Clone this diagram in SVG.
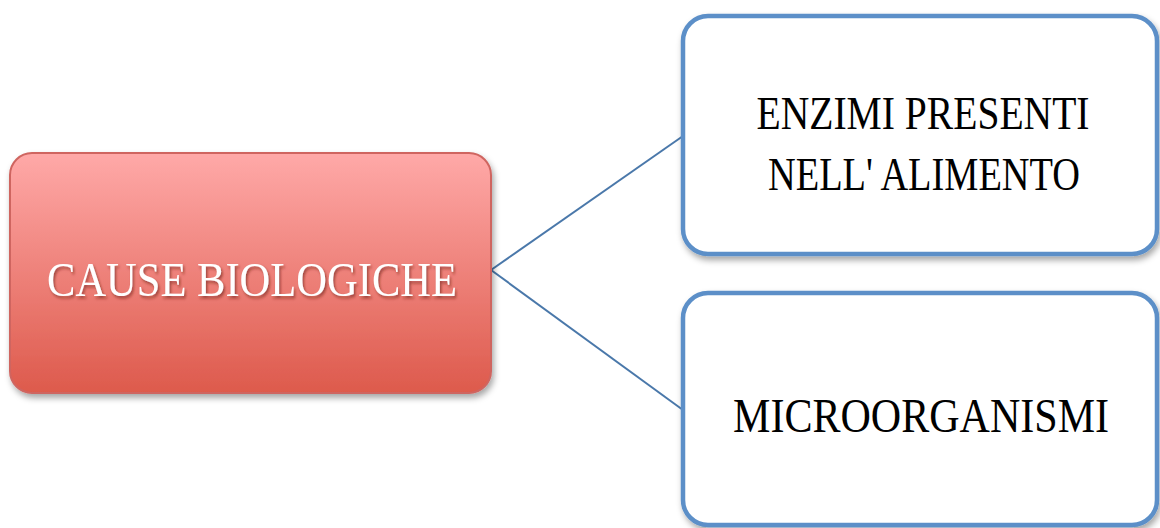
<svg xmlns="http://www.w3.org/2000/svg" width="1160" height="528" viewBox="0 0 1160 528">
<style>
.t{font-family:"Liberation Serif","DejaVu Serif",serif;font-size:42px;text-anchor:middle}
.box{fill:#fff;stroke:#5b8fc8;stroke-width:4.5}
.con{stroke:#4a78aa;stroke-width:2;fill:none}
</style>
<defs>
<linearGradient id="rg" x1="0" y1="0" x2="0" y2="1">
<stop offset="0" stop-color="#ffa9a8"/>
<stop offset="1" stop-color="#dd5a4c"/>
</linearGradient>
<filter id="sh" x="-10%" y="-10%" width="120%" height="130%">
<feDropShadow dx="2" dy="4" stdDeviation="3" flood-color="#000" flood-opacity="0.35"/>
</filter>
<filter id="ts" x="-5%" y="-20%" width="110%" height="150%">
<feDropShadow dx="1.5" dy="2" stdDeviation="1.2" flood-color="#6a1a14" flood-opacity="0.6"/>
</filter>
</defs>
<g id="connectors">
<line class="con" x1="491" y1="270" x2="683" y2="136"/>
<line class="con" x1="491" y1="270" x2="683" y2="410"/>
</g>
<g id="cause">
<rect x="10" y="153" width="481" height="240" rx="22" fill="url(#rg)" stroke="#cf6560" stroke-width="2" filter="url(#sh)"/>
<text class="t" transform="translate(252,296) scale(1,1.18)" fill="#fff" filter="url(#ts)" textLength="410" lengthAdjust="spacingAndGlyphs">CAUSE BIOLOGICHE</text>
</g>
<g id="enzimi">
<rect class="box" x="683" y="16" width="474" height="238" rx="25" filter="url(#sh)"/>
<text class="t" transform="translate(923,129) scale(1,1.08)" fill="#000" textLength="333" lengthAdjust="spacingAndGlyphs">ENZIMI PRESENTI</text>
<text class="t" transform="translate(924,190) scale(1,1.1)" fill="#000" textLength="312" lengthAdjust="spacingAndGlyphs">NELL' ALIMENTO</text>
</g>
<g id="micro">
<rect class="box" x="683" y="293" width="474" height="232" rx="25" filter="url(#sh)"/>
<text class="t" transform="translate(921,432) scale(1,1.14)" fill="#000" textLength="376" lengthAdjust="spacingAndGlyphs">MICROORGANISMI</text>
</g>
</svg>
